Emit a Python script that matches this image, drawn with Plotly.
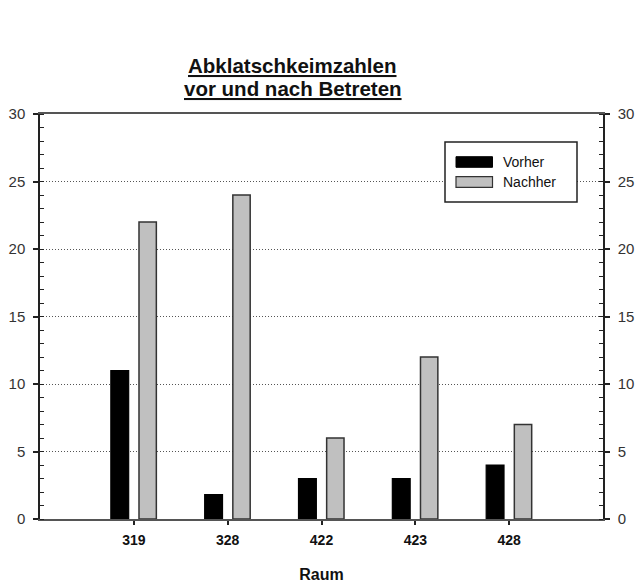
import plotly.graph_objects as go

# Data
rooms = ["319", "328", "422", "423", "428"]
vorher = [11, 1.8, 3, 3, 4]
nachher = [22, 24, 6, 12, 7]
series_names = ["Vorher", "Nachher"]
title_lines = ["Abklatschkeimzahlen", "vor und nach Betreten"]
x_title = "Raum"
y_ticks = [0, 5, 10, 15, 20, 25, 30]

FONT = "Arial, Liberation Sans, sans-serif"
AX = "#222222"

# plot area in pixels
L, R, T, B = 40, 603, 114, 519
PW, PH = R - L, B - T

def px(x):
    return (x - L) / PW

def py(y):
    return (B - y) / PH

fig = go.Figure()
fig.add_trace(go.Bar(
    x=rooms, y=vorher, name=series_names[0],
    marker=dict(color="#000000", line=dict(color="#000000", width=1.2)),
    width=0.19, offset=-0.245, showlegend=False,
))
fig.add_trace(go.Bar(
    x=rooms, y=nachher, name=series_names[1],
    marker=dict(color="#c0c0c0", line=dict(color="#333333", width=1.5)),
    width=0.185, offset=0.055, showlegend=False,
))
# invisible trace so the right-hand axis is drawn
fig.add_trace(go.Scatter(
    x=rooms, y=nachher, yaxis="y2", mode="markers",
    marker=dict(opacity=0), showlegend=False, hoverinfo="skip",
))

# Manual legend (box, swatches, labels)
shapes = [
    dict(type="rect", xref="paper", yref="paper", x0=px(445), x1=px(577), y0=py(202), y1=py(142),
         line=dict(color="#222222", width=1.5), fillcolor="white", layer="above"),
    dict(type="rect", xref="paper", yref="paper", x0=px(456), x1=px(492.5),
         y0=py(167.3), y1=py(156.7),
         line=dict(color="#000000", width=1), fillcolor="#000000", layer="above"),
    dict(type="rect", xref="paper", yref="paper", x0=px(456), x1=px(492.5),
         y0=py(187.3), y1=py(176.7),
         line=dict(color="#333333", width=1.2), fillcolor="#c0c0c0", layer="above"),
]
annotations = [
    dict(text=series_names[0], xref="paper", yref="paper", x=px(501), y=py(162),
         xanchor="left", yanchor="middle", showarrow=False, font=dict(family=FONT, size=14, color="#111")),
    dict(text=series_names[1], xref="paper", yref="paper", x=px(501), y=py(182),
         xanchor="left", yanchor="middle", showarrow=False, font=dict(family=FONT, size=14, color="#111")),
    dict(text="<b><u>" + title_lines[0] + "</u></b>", xref="paper", yref="paper", x=px(292), y=py(65),
         xanchor="center", yanchor="middle", showarrow=False, font=dict(family=FONT, size=20.5, color="#111")),
    dict(text="<b><u>" + title_lines[1] + "</u></b>", xref="paper", yref="paper", x=px(293), y=py(88),
         xanchor="center", yanchor="middle", showarrow=False, font=dict(family=FONT, size=20.5, color="#111")),
]

yaxis_common = dict(
    range=[0, 30], tickvals=y_ticks, ticks="outside", ticklen=5, tickwidth=1.5, tickcolor=AX,
    showline=True, linecolor=AX, linewidth=1.5, zeroline=False, automargin=False,
    ticklabelstandoff=5,
    tickfont=dict(family=FONT, size=15, color="#333"),
    minor=dict(dtick=1, ticks="inside", ticklen=4, tickwidth=1.2, tickcolor=AX, showgrid=False),
)

fig.update_layout(
    width=635, height=586,
    margin=dict(l=L, r=635 - R, t=T, b=586 - B, autoexpand=False),
    paper_bgcolor="white", plot_bgcolor="white",
    font=dict(family=FONT, color="#111"),
    xaxis=dict(
        type="category", range=[-1, 5], showgrid=False, automargin=False,
        ticks="outside", ticklen=4, tickwidth=1.5, tickcolor=AX,
        showline=True, linecolor="#555", linewidth=1.5, mirror=True,
        ticklabelstandoff=3,
        tickfont=dict(family=FONT, size=14, color="#111", weight="bold"),
        title=dict(text="<b>" + x_title + "</b>", font=dict(family=FONT, size=16, color="#111"), standoff=22),
    ),
    yaxis=dict(
        **yaxis_common, side="left",
        showgrid=True, gridcolor="#555", griddash="1px,2px", gridwidth=1,
    ),
    yaxis2=dict(
        **yaxis_common, side="right", overlaying="y", anchor="x", showgrid=False,
    ),
    shapes=shapes, annotations=annotations,
    barmode="overlay",
)

fig.write_html(
    "out.html",
    config={"displayModeBar": False},
    post_script="document.body.style.margin='0';document.body.style.overflow='hidden';",
)
